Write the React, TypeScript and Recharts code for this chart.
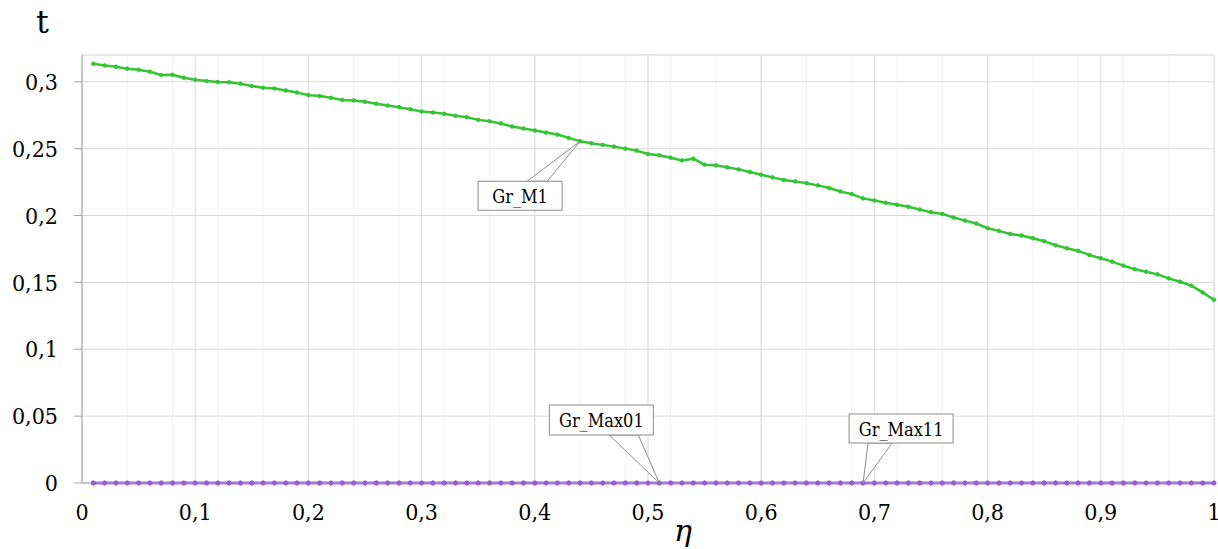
import { LineChart, Line, XAxis, YAxis, CartesianGrid, ReferenceDot } from 'recharts'

const eta = [
  0.01, 0.02, 0.03, 0.04, 0.05, 0.06, 0.07, 0.08, 0.09, 0.1,
  0.11, 0.12, 0.13, 0.14, 0.15, 0.16, 0.17, 0.18, 0.19, 0.2,
  0.21, 0.22, 0.23, 0.24, 0.25, 0.26, 0.27, 0.28, 0.29, 0.3,
  0.31, 0.32, 0.33, 0.34, 0.35, 0.36, 0.37, 0.38, 0.39, 0.4,
  0.41, 0.42, 0.43, 0.44, 0.45, 0.46, 0.47, 0.48, 0.49, 0.5,
  0.51, 0.52, 0.53, 0.54, 0.55, 0.56, 0.57, 0.58, 0.59, 0.6,
  0.61, 0.62, 0.63, 0.64, 0.65, 0.66, 0.67, 0.68, 0.69, 0.7,
  0.71, 0.72, 0.73, 0.74, 0.75, 0.76, 0.77, 0.78, 0.79, 0.8,
  0.81, 0.82, 0.83, 0.84, 0.85, 0.86, 0.87, 0.88, 0.89, 0.9,
  0.91, 0.92, 0.93, 0.94, 0.95, 0.96, 0.97, 0.98, 0.99, 1,
]

const grM1 = [
  0.3135, 0.3122, 0.3112, 0.3098, 0.309, 0.3075, 0.305, 0.3052, 0.303, 0.3015,
  0.3005, 0.2998, 0.2996, 0.2985, 0.2968, 0.2955, 0.295, 0.2935, 0.292, 0.29,
  0.2893, 0.288, 0.2863, 0.286, 0.285, 0.2835, 0.2822, 0.281, 0.2795, 0.2778,
  0.277, 0.276, 0.2745, 0.2735, 0.2715, 0.2705, 0.2688, 0.2665, 0.265, 0.2635,
  0.262, 0.2605, 0.258, 0.2555, 0.254, 0.2528, 0.2515, 0.25, 0.2485, 0.246,
  0.245, 0.2432, 0.2412, 0.2425, 0.238, 0.2375, 0.236, 0.2345, 0.2325, 0.2305,
  0.2285, 0.2265, 0.2255, 0.2242, 0.2225, 0.2205, 0.218, 0.216, 0.2128, 0.2112,
  0.2095, 0.208, 0.2065, 0.2045, 0.2025, 0.2012, 0.1985, 0.1962, 0.194, 0.1905,
  0.1885, 0.1862, 0.185, 0.183, 0.1808, 0.1778, 0.1755, 0.1735, 0.1705, 0.168,
  0.1655, 0.1625, 0.1598, 0.158, 0.156, 0.153, 0.1505, 0.1475, 0.1425, 0.137,
]

const grMax01 = [
  0, 0, 0, 0, 0, 0, 0, 0, 0, 0, 0, 0, 0, 0, 0, 0, 0, 0, 0, 0,
  0, 0, 0, 0, 0, 0, 0, 0, 0, 0, 0, 0, 0, 0, 0, 0, 0, 0, 0, 0,
  0, 0, 0, 0, 0, 0, 0, 0, 0, 0, 0, 0, 0, 0, 0, 0, 0, 0, 0, 0,
  0, 0, 0, 0, 0, 0, 0, 0, 0, 0, 0, 0, 0, 0, 0, 0, 0, 0, 0, 0,
  0, 0, 0, 0, 0, 0, 0, 0, 0, 0, 0, 0, 0, 0, 0, 0, 0, 0, 0, 0,
]

const grMax11 = [
  0, 0, 0, 0, 0, 0, 0, 0, 0, 0, 0, 0, 0, 0, 0, 0, 0, 0, 0, 0,
  0, 0, 0, 0, 0, 0, 0, 0, 0, 0, 0, 0, 0, 0, 0, 0, 0, 0, 0, 0,
  0, 0, 0, 0, 0, 0, 0, 0, 0, 0, 0, 0, 0, 0, 0, 0, 0, 0, 0, 0,
  0, 0, 0, 0, 0, 0, 0, 0, 0, 0, 0, 0, 0, 0, 0, 0, 0, 0, 0, 0,
  0, 0, 0, 0, 0, 0, 0, 0, 0, 0, 0, 0, 0, 0, 0, 0, 0, 0, 0, 0,
]

const xTicks = [0, 0.1, 0.2, 0.3, 0.4, 0.5, 0.6, 0.7, 0.8, 0.9, 1]
const yTicks = [0, 0.05, 0.1, 0.15, 0.2, 0.25, 0.3]
const xMinorTicks = [
  0, 0.02, 0.04, 0.06, 0.08, 0.1, 0.12, 0.14, 0.16, 0.18, 0.2, 0.22, 0.24, 0.26, 0.28, 0.3,
  0.32, 0.34, 0.36, 0.38, 0.4, 0.42, 0.44, 0.46, 0.48, 0.5, 0.52, 0.54, 0.56, 0.58, 0.6,
  0.62, 0.64, 0.66, 0.68, 0.7, 0.72, 0.74, 0.76, 0.78, 0.8, 0.82, 0.84, 0.86, 0.88, 0.9,
  0.92, 0.94, 0.96, 0.98, 1,
]
const yMinorTicks = [
  0, 0.01, 0.02, 0.03, 0.04, 0.05, 0.06, 0.07, 0.08, 0.09, 0.1, 0.11, 0.12, 0.13, 0.14, 0.15, 0.16,
  0.17, 0.18, 0.19, 0.2, 0.21, 0.22, 0.23, 0.24, 0.25, 0.26, 0.27, 0.28, 0.29, 0.3, 0.31, 0.32,
]

const calloutNames = ['Gr_M1', 'Gr_Max01', 'Gr_Max11']
const calloutEta = [0.44, 0.51, 0.69]
const calloutSeries = ['m1', 'max01', 'max11']

const data = eta.map((x, i) => ({ eta: x, m1: grM1[i], max01: grMax01[i], max11: grMax11[i] }))

const FONT = 'DejaVu Serif'
const GREEN = '#34c434'
const PURPLE = '#9b5bd8'
const AXIS = '#a6a6a6'
const tickStyle = { fontFamily: FONT, fontStretch: 'condensed' }

const fmt = (v: number) => String(v).replace('.', ',')

// box offsets relative to the anchored point: [left, top, width, height, baseX1, baseX2, baseY]
const boxLayout: Record<string, number[]> = {
  Gr_M1: [-102, 40, 84, 29, -53, -33, 40],
  Gr_Max01: [-110, -78, 104, 30, -50, -21, -48],
  Gr_Max11: [-14, -69, 104, 29, 5, 29, -40],
}

function Callout(props: any) {
  const { cx, cy, name } = props
  const [l, t, w, h, b1, b2, by] = boxLayout[name]
  return (
    <g>
      <polygon
        points={`${cx + b1},${cy + by} ${cx},${cy} ${cx + b2},${cy + by}`}
        fill="#fff"
        stroke="#8c8c8c"
        strokeWidth={1}
      />
      <rect x={cx + l} y={cy + t} width={w} height={h} fill="#fff" stroke="#8c8c8c" strokeWidth={1} />
      <text
        x={cx + l + w / 2}
        y={cy + t + h / 2 + 7}
        textAnchor="middle"
        style={{ ...tickStyle, fontSize: 18 }}
        fill="#000"
      >
        {name}
      </text>
    </g>
  )
}

export default function App() {
  return (
    <div
      style={{
        position: 'absolute',
        left: 0,
        top: 0,
        width: 1218,
        height: 549,
        overflow: 'hidden',
        background: '#fff',
        fontFamily: FONT,
      }}
    >
      <div style={{ position: 'absolute', left: 36, top: 2, fontSize: 32, lineHeight: '40px', color: '#000' }}>t</div>
      <div
        style={{
          position: 'absolute',
          left: 674,
          top: 513,
          fontStyle: 'italic',
          fontSize: 30,
          lineHeight: '36px',
          color: '#000',
        }}
      >
        η
      </div>
      <LineChart
        width={1218}
        height={549}
        data={data}
        margin={{ top: 55, right: 4, bottom: 0, left: 0 }}
        style={{ fontFamily: FONT }}
      >
        <XAxis xAxisId="minor" dataKey="eta" type="number" domain={[0, 1]} ticks={xMinorTicks} hide />
        <YAxis yAxisId="minor" type="number" domain={[0, 0.32]} ticks={yMinorTicks} hide />
        <CartesianGrid xAxisId="minor" yAxisId="minor" stroke="#f0f0f0" strokeWidth={1} />
        <CartesianGrid stroke="#d9d9d9" strokeWidth={1} />
        <XAxis
          dataKey="eta"
          type="number"
          domain={[0, 1]}
          ticks={xTicks}
          tickFormatter={fmt}
          height={66}
          tickLine={false}
          tickSize={0}
          tickMargin={21}
          axisLine={{ stroke: AXIS }}
          tick={{ style: tickStyle, fontSize: 23, fill: '#000' }}
          interval={0}
        />
        <YAxis
          type="number"
          domain={[0, 0.32]}
          ticks={yTicks}
          tickFormatter={fmt}
          width={82}
          tickSize={8}
          tickMargin={16}
          tickLine={{ stroke: AXIS }}
          axisLine={{ stroke: AXIS }}
          tick={{ style: tickStyle, fontSize: 23, fill: '#000' }}
          interval={0}
        />
        <Line
          dataKey="max01"
          stroke={PURPLE}
          strokeWidth={2.5}
          dot={{ r: 2, fill: PURPLE, stroke: PURPLE, strokeWidth: 1 }}
          isAnimationActive={false}
        />
        <Line
          dataKey="max11"
          stroke={PURPLE}
          strokeWidth={2.5}
          dot={{ r: 2, fill: PURPLE, stroke: PURPLE, strokeWidth: 1 }}
          isAnimationActive={false}
        />
        <Line
          dataKey="m1"
          stroke={GREEN}
          strokeWidth={2.5}
          dot={{ r: 1.8, fill: GREEN, stroke: GREEN, strokeWidth: 1 }}
          isAnimationActive={false}
        />
        {calloutNames.map((name, i) => {
          const row = data.find((d) => d.eta === calloutEta[i]) as any
          return (
            <ReferenceDot
              key={name}
              x={calloutEta[i]}
              y={row[calloutSeries[i]]}
              r={0}
              shape={(p: any) => <Callout {...p} name={name} />}
            />
          )
        })}
      </LineChart>
    </div>
  )
}
